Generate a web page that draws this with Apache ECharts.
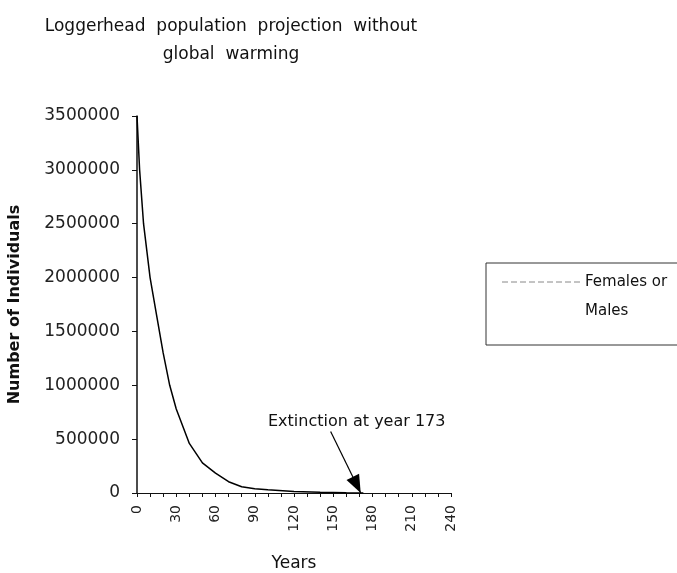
<!DOCTYPE html>
<html>
<head>
<meta charset="utf-8">
<script src="https://cdn.jsdelivr.net/npm/echarts@6/dist/echarts.min.js"></script>
<style>html,body{margin:0;padding:0;background:#fff}#c{width:677px;height:573px}</style>
</head>
<body>
<div id="c"></div>
<script>
// Data
const years = [0, 2, 5, 10, 15, 20, 25, 30, 40, 50, 60, 70, 80, 90, 100, 120, 140, 160, 173];
const individuals = [3500000, 3000000, 2500000, 2000000, 1650000, 1300000, 1000000, 780000, 460000, 280000, 185000, 105000, 58000, 40000, 30000, 15000, 8000, 3000, 0];
const seriesName = 'Females or Males';
const extinctionYear = 173;
const arrowStart = [148, 570000];
const arrowEnd = [171, 0];
const titleText = 'Loggerhead  population  projection  without\nglobal  warming';
const annotationText = 'Extinction at year 173';

const chart = echarts.init(document.getElementById('c'));
const font = '"DejaVu Sans", "Liberation Sans", sans-serif';
chart.setOption({
  animation: false,
  title: {
    text: titleText, left: 226, top: 8, textAlign: 'center',
    textStyle: { fontFamily: font, fontSize: 17, fontWeight: 'normal', color: '#111', lineHeight: 28 }
  },
  grid: { left: 137, right: 226, top: 116, bottom: 80, containLabel: false, outerBoundsMode: 'none' },
  xAxis: [{
    type: 'value', min: 0, max: 240, interval: 10, gridIndex: 0, position: 'bottom',
    axisLine: { show: true, lineStyle: { color: '#111', width: 1 } },
    splitLine: { show: false },
    name: 'Years', nameLocation: 'middle', nameGap: 62,
    nameTextStyle: { fontFamily: font, fontSize: 17, color: '#111' },
    axisTick: { show: true, length: 4, lineStyle: { color: '#111' } },
    axisLabel: {
      rotate: 90, margin: 12, fontFamily: font, fontSize: 14, color: '#222',
      formatter: v => (v % 30 === 0 ? String(v) : '')
    }
  }],
  yAxis: {
    type: 'value', min: 0, max: 3500000, interval: 500000,
    name: 'Number of Individuals', nameLocation: 'middle', nameGap: 114,
    nameTextStyle: { fontFamily: font, fontSize: 16, fontWeight: 'bold', color: '#111' },
    axisLine: { show: true, lineStyle: { color: '#111', width: 1.5 } },
    axisTick: { show: true, length: 5, lineStyle: { color: '#111' } },
    axisLabel: { fontFamily: font, fontSize: 17, color: '#222', margin: 17, formatter: v => String(v) },
    splitLine: { show: false }
  },
  series: [{
    name: seriesName, type: 'line', xAxisIndex: 0,
    data: years.map((y, i) => [y, individuals[i]]),
    symbol: 'none', smooth: false,
    lineStyle: { color: '#000', width: 1.5 },
    markLine: {
      silent: true, symbol: ['none', 'triangle'], symbolSize: [14, 18],
      symbolOffset: [[0, 0], [0, 9]],
      label: { show: false },
      lineStyle: { color: '#000', width: 1.2, type: 'solid' },
      data: [[{ coord: arrowStart }, { coord: arrowEnd }]]
    }
  }],
  graphic: [
    { type: 'text', left: 268, top: 414,
      style: { text: annotationText, font: '16px ' + font, fill: '#111' } },
    { type: 'rect', shape: { x: 486, y: 263, width: 240, height: 82 },
      style: { fill: 'none', stroke: '#333', lineWidth: 1 } },
    { type: 'line', shape: { x1: 502, y1: 282, x2: 582, y2: 282 },
      style: { stroke: '#888', lineWidth: 1, lineDash: [6, 3] } },
    { type: 'text', x: 585, y: 282,
      style: { text: 'Females or', font: '15px ' + font, fill: '#111', verticalAlign: 'middle' } },
    { type: 'text', x: 585, y: 311,
      style: { text: 'Males', font: '15px ' + font, fill: '#111', verticalAlign: 'middle' } }
  ]
});
</script>
</body>
</html>
